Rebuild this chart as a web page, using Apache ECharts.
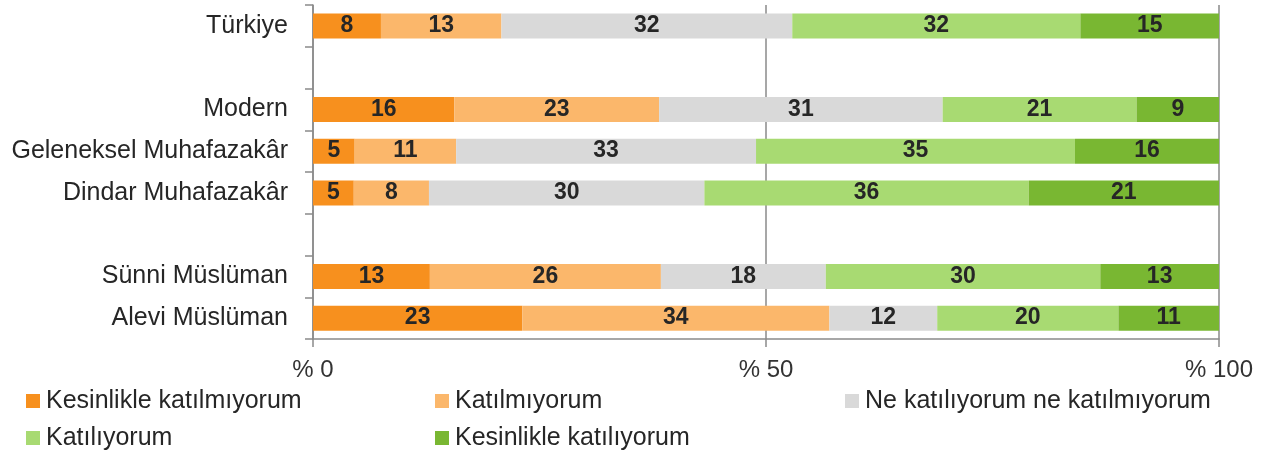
<!DOCTYPE html>
<html>
<head>
<meta charset="utf-8">
<script src="https://cdn.jsdelivr.net/npm/echarts@6/dist/echarts.min.js"></script>
<style>
  html, body { margin: 0; padding: 0; background: #ffffff; }
  #chart { width: 1273px; height: 450px; }
</style>
</head>
<body>
<div id="chart"></div>
<script>
// Categories (top to bottom); empty strings are spacer rows
const categories = ['Türkiye', '', 'Modern', 'Geleneksel Muhafazakâr', 'Dindar Muhafazakâr', ' ', 'Sünni Müslüman', 'Alevi Müslüman'];

// Series names
const seriesNames = ['Kesinlikle katılmıyorum', 'Katılmıyorum', 'Ne katılıyorum ne katılmıyorum', 'Katılıyorum', 'Kesinlikle katılıyorum'];

// Values (%), '-' for spacer rows
const strongDisagree = [7.5, '-', 15.6, 4.6, 4.5, '-', 12.9, 23.1];
const disagree       = [13.3, '-', 22.6, 11.2, 8.3, '-', 25.5, 33.9];
const neutral        = [32.1, '-', 31.3, 33.1, 30.4, '-', 18.2, 11.9];
const agree          = [31.8, '-', 21.4, 35.2, 35.8, '-', 30.3, 20.0];
const strongAgree    = [15.3, '-', 9.1, 15.9, 21.0, '-', 13.1, 11.1];

// X axis ticks
const xMin = 0, xMax = 100, xInterval = 50;

const colors = ['#F7901E', '#FBB76B', '#D9D9D9', '#A8DA72', '#79B732'];
const allValues = [strongDisagree, disagree, neutral, agree, strongAgree];

const textFont = 'Liberation Sans';
const chart = echarts.init(document.getElementById('chart'), null, { renderer: 'canvas' });

const series = allValues.map((vals, i) => ({
  name: seriesNames[i],
  type: 'bar',
  stack: 'total',
  barWidth: 25,
  data: vals,
  itemStyle: { color: colors[i] },
  label: {
    show: true,
    position: 'inside',
    formatter: p => Math.round(p.value),
    color: '#262626',
    fontFamily: textFont,
    fontWeight: 'bold',
    fontSize: 23
  },
  emphasis: { disabled: true }
}));

const legendPos = [
  { left: 26, top: 387 },
  { left: 435, top: 387 },
  { left: 845, top: 387 },
  { left: 26, top: 424 },
  { left: 435, top: 424 }
];
const legends = seriesNames.map((n, i) => ({
  data: [n],
  left: legendPos[i].left,
  top: legendPos[i].top,
  padding: 0,
  icon: 'rect',
  itemWidth: 14,
  itemHeight: 14,
  itemGap: 6,
  selectedMode: false,
  textStyle: { fontFamily: textFont, fontSize: 25, color: '#262626', lineHeight: 28, padding: [0, 0, 0, 1] }
}));

chart.setOption({
  animation: false,
  backgroundColor: '#ffffff',
  color: colors,
  grid: { left: 313, right: 54, top: 5, bottom: 111, containLabel: false },
  legend: legends,
  xAxis: {
    type: 'value',
    min: xMin,
    max: xMax,
    interval: xInterval,
    axisLine: { show: true, lineStyle: { color: '#8a8a8a', width: 1.5 } },
    axisTick: { show: true, length: 8, lineStyle: { color: '#8a8a8a', width: 1.5 } },
    splitLine: { show: true, lineStyle: { color: '#8a8a8a', width: 1.5 } },
    axisLabel: {
      formatter: '% {value}',
      fontFamily: textFont,
      fontSize: 24,
      color: '#333333',
      margin: 19
    }
  },
  yAxis: {
    type: 'category',
    inverse: true,
    data: categories,
    axisLine: { show: true, lineStyle: { color: '#8a8a8a', width: 1.5 } },
    axisTick: { show: true, length: 8, lineStyle: { color: '#8a8a8a', width: 1.5 } },
    axisLabel: {
      fontFamily: textFont,
      fontSize: 25,
      color: '#262626',
      margin: 25
    }
  },
  series: series
});
</script>
</body>
</html>
